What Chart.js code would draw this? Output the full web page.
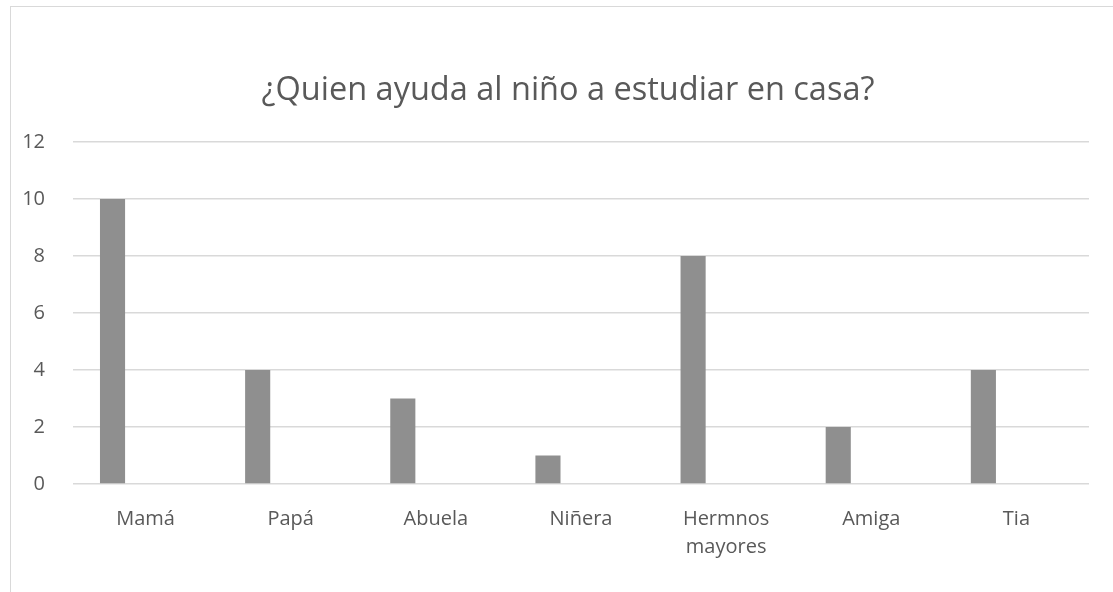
<!DOCTYPE html>
<html>
<head>
<meta charset="utf-8">
<script src="https://cdn.jsdelivr.net/npm/chart.js@4/dist/chart.umd.min.js"></script>
<style>
  html, body { margin: 0; background: #fff; overflow: hidden; width: 1113px; height: 592px; }
  #frame {
    position: absolute; left: 10px; top: 6px; width: 1120px; height: 600px;
    border-left: 1px solid #d9d9d9; border-top: 1px solid #d9d9d9;
  }
  #wrap { position: absolute; left: 0; top: 0; width: 1136px; height: 592px; }
</style>
</head>
<body>
<div id="frame"></div>
<div id="wrap"><canvas id="chart-ayuda" width="1136" height="592"></canvas></div>
<script>
// datos del gráfico
const titulo = '¿Quien ayuda al niño a estudiar en casa?';
const categorias = ['Mamá', 'Papá', 'Abuela', 'Niñera', ['Hermnos', 'mayores'], 'Amiga', 'Tia'];
const valores = [10, 4, 3, 1, 8, 2, 4];
const vacio = [null, null, null, null, null, null, null];
const yMin = 0;
const yMax = 12;
const yPaso = 2;

const gris = '#8f8f8f';
const texto = '#595959';
const lineas = '#d9d9d9';
const fuente = "'Open Sans', 'Noto Sans', sans-serif";

const ctx = document.getElementById('chart-ayuda');

const chartAyuda = new Chart(ctx, {
  type: 'bar',
  data: {
    labels: categorias,
    datasets: [
      { label: 'Serie 1', data: valores, backgroundColor: gris, borderWidth: 0 },
      { label: 'Serie 2', data: vacio, backgroundColor: gris },
      { label: 'Serie 3', data: vacio, backgroundColor: gris },
    ],
  },
  options: {
    responsive: false,
    animation: false,
    categoryPercentage: 0.683,
    barPercentage: 0.76,
    layout: { padding: 0 },
    plugins: {
      legend: { display: false },
      tooltip: { enabled: false },
      title: {
        display: true,
        text: titulo,
        color: texto,
        font: { family: fuente, size: 32.5, weight: 'normal', lineHeight: 1.2 },
        padding: { top: 71, bottom: 32 },
      },
    },
    scales: {
      x: {
        grid: { display: false },
        border: { display: false },
        ticks: {
          color: texto,
          font: { family: fuente, size: 20, lineHeight: 1.4 },
          padding: 13,
          maxRotation: 0,
          autoSkip: false,
        },
        afterFit: (scale) => { scale.height = 108; },
      },
      y: {
        min: yMin,
        max: yMax,
        grid: { color: lineas, lineWidth: 1.5, drawTicks: false },
        border: { display: false },
        ticks: {
          stepSize: yPaso,
          color: texto,
          font: { family: fuente, size: 20 },
          padding: 28,
        },
        afterFit: (scale) => { scale.width = 73; },
      },
      // eje vacío a la derecha, solo reserva espacio
      yDerecha: {
        position: 'right',
        grid: { display: false },
        border: { display: false },
        ticks: { display: false },
        afterFit: (scale) => { scale.width = 47; },
      },
    },
  },
});
</script>
</body>
</html>
